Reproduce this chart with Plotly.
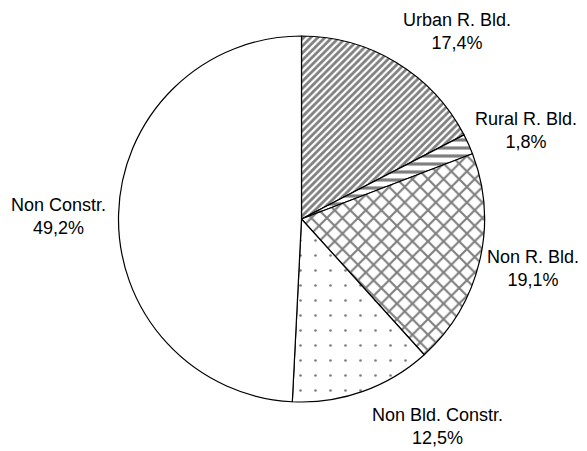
import plotly.graph_objects as go

categories = ["Urban R. Bld.", "Rural R. Bld.", "Non R. Bld.", "Non Bld. Constr.", "Non Constr."]
values = [17.4, 1.8, 19.1, 12.5, 49.2]
value_labels = ["17,4%", "1,8%", "19,1%", "12,5%", "49,2%"]

patterns = ["/", "-", "x", ".", ""]
pattern_sizes = [5, 8, 11, 15, 8]
pattern_solidity = [0.55, 0.4, 0.35, 0.025, 0.3]

OFF = 8  # default page body margin
W, H = 587 - OFF, 451 - OFF
label_pos = [(457, 31), (526, 130), (533, 268), (437, 426), (59, 216)]


def px_x(v):
    return (v - OFF) / W


def px_y(v):
    return 1 - (v - OFF) / H


fig = go.Figure(go.Pie(
    labels=categories,
    values=values,
    sort=False,
    direction="clockwise",
    rotation=0,
    textinfo="none",
    hoverinfo="label+percent",
    marker=dict(
        colors=["white"] * 5,
        line=dict(color="black", width=1.2),
        pattern=dict(shape=patterns, size=pattern_sizes, solidity=pattern_solidity,
                     fgcolor="black", bgcolor="white", fillmode="overlay"),
    ),
    domain=dict(x=[px_x(118), px_x(485)], y=[px_y(402), px_y(36)]),
    showlegend=False,
))

for cat, lab, (px, py) in zip(categories, value_labels, label_pos):
    fig.add_annotation(x=px_x(px), y=px_y(py), xref="paper", yref="paper",
                       text=f"{cat}<br>{lab}", showarrow=False,
                       xanchor="center", yanchor="middle", align="center",
                       font=dict(family="Liberation Sans, Arial", size=18, color="black"))

fig.update_layout(width=W, height=H, margin=dict(l=0, r=0, t=0, b=0),
                  paper_bgcolor="white", plot_bgcolor="white")
fig.write_html("out.html")
